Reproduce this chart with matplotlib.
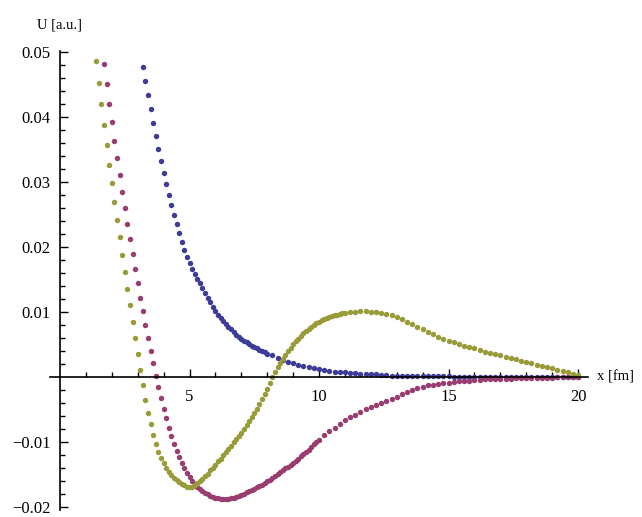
"""Dotted potential curves U(x) in Mathematica ListPlot style."""

import matplotlib.pyplot as plt
import numpy as np
from matplotlib.ticker import FixedLocator

plt.rcParams["font.family"] = ["Liberation Serif", "DejaVu Serif"]


def grid(start, stop, step):
    return np.round(np.arange(start, stop + step / 2, step), 2)


# sample positions (fm): fine step near the steep parts, coarser tail
blue_x = np.concatenate([grid(3.2, 8.0, 0.1), grid(8.2, 20.0, 0.2)])
magenta_x = np.concatenate([grid(1.7, 10.0, 0.1), grid(10.2, 20.0, 0.2)])
olive_x = np.concatenate([grid(1.4, 11.0, 0.1), grid(11.2, 20.0, 0.2)])

blue_y = [
    0.0478, 0.0456, 0.0434, 0.0412, 0.0391, 0.0371, 0.0351, 0.0332, 0.0314, 0.0297,
    0.0280, 0.0264, 0.0249, 0.0235, 0.0221, 0.0208, 0.0196, 0.0185, 0.0175, 0.0166,
    0.0158, 0.0151, 0.0144, 0.0137, 0.0129, 0.0122, 0.0115, 0.0108, 0.0102, 0.0096,
    0.0091, 0.0086, 0.0081, 0.0077, 0.0073, 0.0069, 0.0065, 0.0062, 0.0059, 0.0056,
    0.0053, 0.0050, 0.0048, 0.0046, 0.0044, 0.0042, 0.0040, 0.0038, 0.0036,
    # step 0.2
    0.0033, 0.0029, 0.0026, 0.0023, 0.0021, 0.0019, 0.0017, 0.0015, 0.0014, 0.0012,
    0.0011, 0.0009, 0.0008, 0.0007, 0.0007, 0.0006, 0.0006, 0.0005, 0.0005, 0.0004,
    0.0004, 0.0003, 0.0003, 0.0002, 0.0002, 0.0002, 0.0002, 0.0001, 0.0001, 0.0001,
    0.0001, 0.0001, 0.0001, 0.0001, 0.0001, 0.0, 0.0, 0.0, 0.0, 0.0,
    0.0, 0.0, 0.0, 0.0, 0.0, 0.0, 0.0, 0.0, 0.0, 0.0,
    0.0, 0.0, 0.0, 0.0, 0.0, 0.0, 0.0, 0.0, 0.0, 0.0,
]

magenta_y = [
    0.0482, 0.0451, 0.0421, 0.0392, 0.0364, 0.0337, 0.0311, 0.0285, 0.0260, 0.0236,
    0.0212, 0.0189, 0.0166, 0.0144, 0.0122, 0.0101, 0.0080, 0.0060, 0.0040, 0.0021,
    0.0002, -0.0016, -0.0033, -0.0049, -0.0064, -0.0078, -0.0091, -0.0103, -0.0114, -0.0124,
    -0.0133, -0.0141, -0.0148, -0.0154, -0.0160, -0.0165, -0.0169, -0.0173, -0.0176, -0.0179,
    -0.0181, -0.0183, -0.0185, -0.0186, -0.0187, -0.0188, -0.0188, -0.0188, -0.0188, -0.0187,
    -0.0186, -0.0185, -0.0184, -0.0182, -0.0180, -0.0178, -0.0176, -0.0174, -0.0172, -0.0170,
    -0.0168, -0.0166, -0.0163, -0.0161, -0.0158, -0.0156, -0.0153, -0.0150, -0.0147, -0.0144,
    -0.0141, -0.0138, -0.0135, -0.0132, -0.0129, -0.0126, -0.0122, -0.0119, -0.0115, -0.0112,
    -0.0108, -0.0104, -0.0101, -0.0097,
    # step 0.2
    -0.0090, -0.0084, -0.0078, -0.0072, -0.0067, -0.0062, -0.0058, -0.0054, -0.0050, -0.0046,
    -0.0043, -0.0040, -0.0037, -0.0034, -0.0031, -0.0027, -0.0024, -0.0020, -0.0017, -0.0015,
    -0.0013, -0.0012, -0.0011, -0.0010, -0.0009, -0.0008, -0.0007, -0.0006, -0.0006, -0.0005,
    -0.0005, -0.0004, -0.0004, -0.0004, -0.0003, -0.0003, -0.0003, -0.0002, -0.0002, -0.0002,
    -0.0001, -0.0001, -0.0001, -0.0001, -0.0001, 0.0, 0.0, 0.0, 0.0, 0.0,
]

olive_y = [
    0.0487, 0.0453, 0.0420, 0.0388, 0.0357, 0.0327, 0.0298, 0.0270, 0.0242, 0.0215,
    0.0188, 0.0162, 0.0136, 0.0110, 0.0085, 0.0060, 0.0035, 0.0010, -0.0013, -0.0035,
    -0.0055, -0.0073, -0.0089, -0.0103, -0.0115, -0.0125, -0.0133, -0.0140, -0.0146, -0.0151,
    -0.0155, -0.0159, -0.0162, -0.0165, -0.0167, -0.0169, -0.0170, -0.0169, -0.0167, -0.0164,
    -0.0161, -0.0157, -0.0153, -0.0149, -0.0144, -0.0140, -0.0135, -0.0130, -0.0126, -0.0121,
    -0.0116, -0.0111, -0.0106, -0.0101, -0.0096, -0.0091, -0.0086, -0.0080, -0.0074, -0.0068,
    -0.0062, -0.0056, -0.0049, -0.0042, -0.0034, -0.0026, -0.0018, -0.0009, 0.0000, 0.0008,
    0.0015, 0.0022, 0.0028, 0.0034, 0.0040, 0.0045, 0.0050, 0.0055, 0.0059, 0.0063,
    0.0067, 0.0071, 0.0074, 0.0077, 0.0080, 0.0083, 0.0085, 0.0087, 0.0089, 0.0091,
    0.0093, 0.0094, 0.0095, 0.0096, 0.0097, 0.0098, 0.0099,
    # step 0.2
    0.0100, 0.0100, 0.0101, 0.0101, 0.0100, 0.0100, 0.0099, 0.0097, 0.0095, 0.0092,
    0.0089, 0.0085, 0.0081, 0.0077, 0.0073, 0.0069, 0.0066, 0.0062, 0.0059, 0.0056,
    0.0053, 0.0051, 0.0048, 0.0046, 0.0044, 0.0041, 0.0039, 0.0037, 0.0035, 0.0033,
    0.0031, 0.0029, 0.0027, 0.0025, 0.0023, 0.0021, 0.0019, 0.0017, 0.0015, 0.0013,
    0.0011, 0.0009, 0.0007, 0.0005, 0.0003,
]

x_ticks = [5, 10, 15, 20]
x_tick_labels = ["5", "10", "15", "20"]
y_ticks = [-0.02, -0.01, 0.01, 0.02, 0.03, 0.04, 0.05]
y_tick_labels = ["\u22120.02", "\u22120.01", "0.01", "0.02", "0.03", "0.04", "0.05"]
x_label = "x [fm]"
y_label = "U [a.u.]"

series = [
    (blue_x, blue_y, "#3d3d99"),
    (magenta_x, magenta_y, "#993d71"),
    (olive_x, olive_y, "#999a38"),
]

fig = plt.figure(figsize=(6.42, 5.17), dpi=100)
ax = fig.add_axes([0.0773, 0.0135, 0.8393, 0.888])

for xs, ys, color in series:
    ax.plot(xs, ys, linestyle="none", marker="o", markersize=3.9,
            markeredgewidth=0, color=color)

ax.set_xlim(-0.4, 20.4)
ax.set_ylim(-0.0205, 0.0502)

for side in ("top", "right"):
    ax.spines[side].set_visible(False)
for side in ("left", "bottom"):
    ax.spines[side].set_position(("data", 0))
    ax.spines[side].set_linewidth(1.2)

ax.set_xticks(x_ticks, labels=x_tick_labels)
ax.set_yticks(y_ticks, labels=y_tick_labels)
ax.xaxis.set_minor_locator(FixedLocator([v for v in range(1, 20) if v % 5]))
minor_y = [round(v * 0.002, 3) for v in range(-10, 26) if v % 5]
ax.yaxis.set_minor_locator(FixedLocator(minor_y))

ax.tick_params(which="both", direction="in", width=1.0, labelsize=12)
ax.tick_params(which="major", length=6)
ax.tick_params(which="minor", length=3.5)
ax.tick_params(axis="x", pad=9)
ax.tick_params(axis="y", pad=7)

ax.annotate(x_label, xy=(1, 0), xycoords=("axes fraction", "data"),
            xytext=(6, 0), textcoords="offset points",
            ha="left", va="center", fontsize=10.5)
ax.annotate(y_label, xy=(0, 1), xycoords=("data", "axes fraction"),
            xytext=(0, 14), textcoords="offset points",
            ha="center", va="bottom", fontsize=10.5)

fig.savefig("out.png", dpi=100)
